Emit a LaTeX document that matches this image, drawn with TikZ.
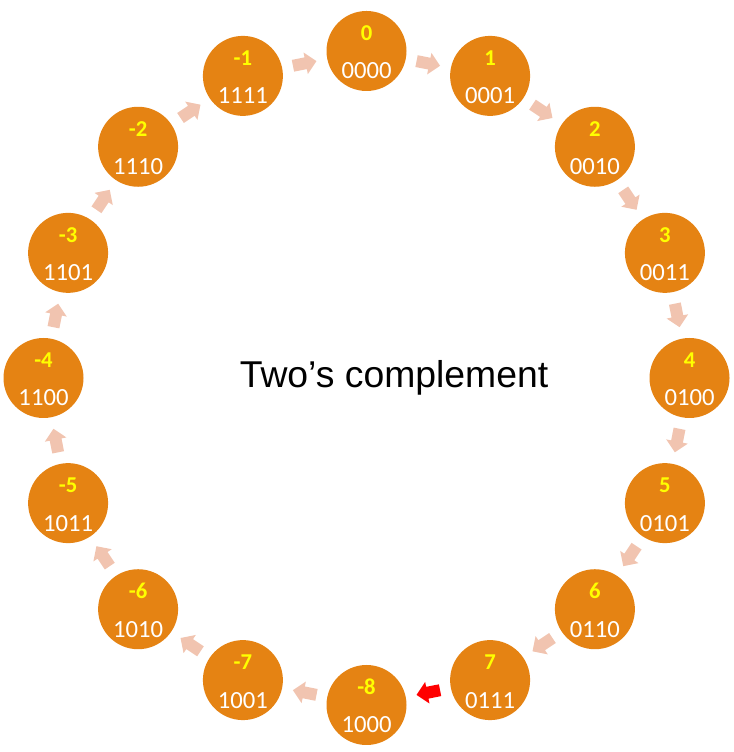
\documentclass[tikz,border=0pt]{standalone}
\usepackage{fontspec}
\setmainfont{Carlito}
\newfontfamily\titlefont{Liberation Sans}
\usepackage{xcolor}
\usetikzlibrary{arrows.meta, positioning, calc}

\definecolor{ringorange}{RGB}{229,131,19}
\definecolor{ringyellow}{RGB}{255,255,0}
\definecolor{stepsalmon}{RGB}{241,196,176}
\definecolor{stepred}{RGB}{255,0,0}

\begin{document}
\begin{tikzpicture}[
    x=0.75pt, y=0.75pt,
    value/.style={
        circle,
        fill=ringorange,
        minimum size=60pt,
        inner sep=0pt
    },
    stepmark/.pic={
        \fill[pic actions] (-12,-6) -- (1,-6) -- (1,-11) -- (12,0)
            -- (1,11) -- (1,6) -- (-12,6) -- cycle;
    }
]
\useasboundingbox (0,0) rectangle (733,752);

% Ring of values
\foreach \num/\bin [count=\i from 0] in {0/0000, 1/0001, 2/0010, 3/0011,
    4/0100, 5/0101, 6/0110, 7/0111, -8/1000, -7/1001, -6/1010, -5/1011,
    -4/1100, -3/1101, -2/1110, -1/1111}
{
    \node[value] (n\i) at ({366.5+323*cos(90-22.5*\i)},{374+327*sin(90-22.5*\i)}) {};
    \node[text=ringyellow, font=\fontsize{17}{17}\selectfont\bfseries]
        at ($(n\i)+(0,18)$) {\num};
    \node[text=white, font=\fontsize{18.5}{18.5}\selectfont]
        at ($(n\i)+(0,-20)$) {\bin};
}

% Steps between neighbours
\foreach \i [evaluate=\i as \j using {int(mod(\i+1,16))}] in {0,...,15}
{
    \ifnum\i=7
        \pic[fill=stepred, rotate={-11.25-22.5*\i}] (s\i)
            at ($(n\i)!0.5!(n\j)$) {stepmark};
    \else
        \pic[fill=stepsalmon, rotate={-11.25-22.5*\i}] (s\i)
            at ($(n\i)!0.5!(n\j)$) {stepmark};
    \fi
}

% Title
\node[font=\titlefont\fontsize{28}{28}\selectfont] (title) at (394,374) {Two’s complement};

\end{tikzpicture}
\end{document}
